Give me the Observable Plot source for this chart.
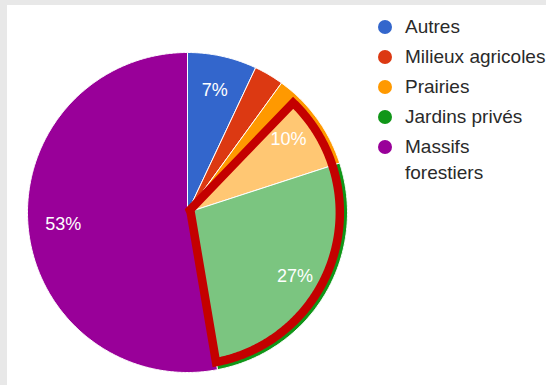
<!DOCTYPE html>
<html>
<head>
<meta charset="utf-8">
<script src="https://cdn.jsdelivr.net/npm/d3@7"></script>
<script src="https://cdn.jsdelivr.net/npm/@observablehq/plot@0.6"></script>
<style>
  html, body { margin: 0; padding: 0; }
  body { width: 546px; height: 385px; background: #e8e8e8; position: relative; overflow: hidden; font-family: "Liberation Sans", Arial, sans-serif; }
  #paper { position: absolute; left: 7px; top: 5px; width: 539px; height: 380px; background: #fff; }
  #chart { position: absolute; left: 0; top: 0; }
  #legend { position: absolute; left: 378px; top: 14px; }
  .row { position: relative; padding-left: 27px; width: 144px; font-size: 19px; line-height: 26px; color: #2a2a2a; margin-bottom: 4px; }
  .sw { position: absolute; left: 0; top: 6px; width: 14px; height: 14px; border-radius: 50%; }
</style>
</head>
<body>
<div id="paper"></div>
<div id="chart"></div>
<div id="legend"></div>
<script>
// ---- data ----
const categories = ["Autres", "Milieux agricoles", "Prairies", "Jardins privés", "Massifs forestiers"];
const shares = [7, 3, 10, 27, 53];
const colors = ["#3366cc", "#dc3912", "#ff9900", "#109618", "#990099"];
// highlighted region (annotation): from 12.2% of the turn to the end of "Jardins privés"
const highlightStartPct = 12.2;
const highlightEndCategory = "Jardins privés";

// ---- geometry from data ----
const total = d3.sum(shares);
const toRad = pct => pct / total * 2 * Math.PI;
const pt = (a, r) => ({x: r * Math.sin(a), y: r * Math.cos(a)});
function arcPoints(a0, a1, r) {
  const n = Math.max(2, Math.ceil((a1 - a0) / (Math.PI / 360)));
  return d3.range(n + 1).map(i => pt(a0 + (a1 - a0) * i / n, r));
}
let cum = 0;
const slices = [], labels = [];
categories.forEach((name, i) => {
  const a0 = toRad(cum), a1 = toRad(cum + shares[i]);
  cum += shares[i];
  const pts = [{x: 0, y: 0}, ...arcPoints(a0, a1, 1), {x: 0, y: 0}];
  pts.forEach(p => slices.push({...p, name}));
  if (shares[i] >= 5) {
    const m = pt((a0 + a1) / 2, 0.78);
    labels.push({...m, text: shares[i] + "%"});
  }
});
// outline polygon
const endIdx = categories.indexOf(highlightEndCategory);
const hEnd = toRad(d3.sum(shares.slice(0, endIdx + 1)));
const hStart = toRad(highlightStartPct);
const rOut = 0.952;
const outline = [pt(hStart, 0.5), ...arcPoints(hStart, hEnd, rOut), {x: 0.02, y: 0}, pt(hStart, 0.02), pt(hStart, 0.5)];

const chart = Plot.plot({
  width: 546,
  height: 385,
  marginLeft: 27,
  marginRight: 199,
  marginTop: 52,
  marginBottom: 13,
  style: {background: "transparent", fontFamily: "'Liberation Sans', Arial, sans-serif"},
  x: {domain: [-1, 1], axis: null},
  y: {domain: [-1, 1], axis: null},
  color: {domain: categories, range: colors},
  marks: [
    Plot.line(slices, {x: "x", y: "y", z: "name", fill: "name", stroke: "white", strokeWidth: 1, strokeLinejoin: "round"}),
    Plot.text(labels, {x: "x", y: "y", text: "text", fill: "white", fontSize: 18}),
    Plot.line(outline, {x: "x", y: "y", fill: "white", fillOpacity: 0.45, stroke: "#c40000", strokeWidth: 8.5, strokeLinejoin: "miter", strokeMiterlimit: 10, strokeLinecap: "butt"})
  ]
});
document.getElementById("chart").appendChild(chart);

// legend built from the plot's color scale
const color = chart.scale("color");
const legend = document.getElementById("legend");
categories.forEach((name, i) => {
  const row = document.createElement("div");
  row.className = "row";
  const sw = document.createElement("span");
  sw.className = "sw";
  sw.style.background = color.range[i];
  row.appendChild(sw);
  row.appendChild(document.createTextNode(name));
  legend.appendChild(row);
});
</script>
</body>
</html>
